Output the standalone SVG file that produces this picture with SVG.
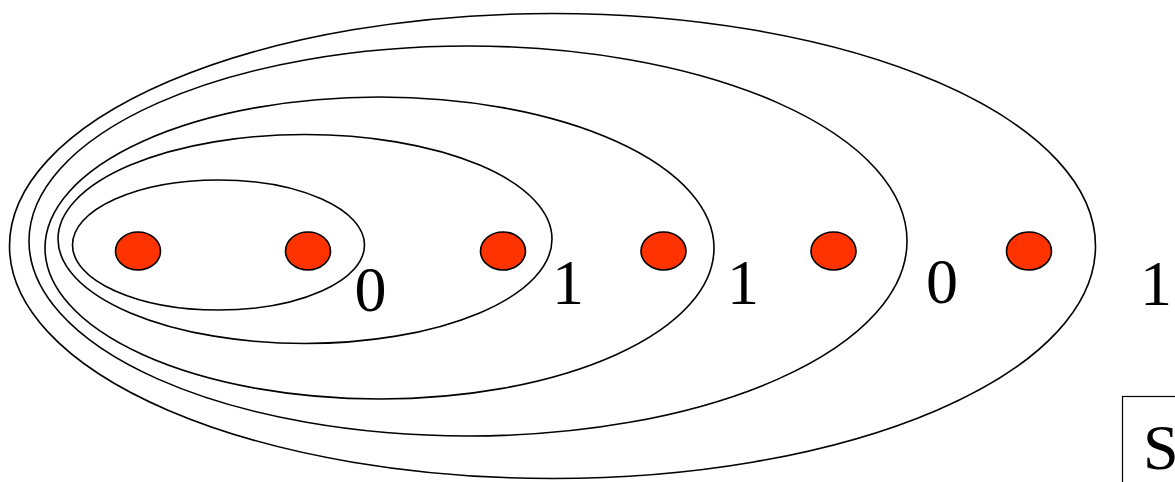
<svg xmlns="http://www.w3.org/2000/svg" width="1175" height="482" viewBox="0 0 1175 482">
<style>
.ring{fill:none;stroke:#000;stroke-width:1.6}
.dot{fill:#FF3300;stroke:#000;stroke-width:1.6}
.lbl{font-family:"Liberation Serif","Times New Roman",serif;font-size:64px;fill:#000}
</style>
<rect width="1175" height="482" fill="#fff"/>
<g id="rings">
<ellipse id="e1" class="ring" cx="218.5" cy="245" rx="146" ry="65"/>
<ellipse id="e2" class="ring" cx="305" cy="239" rx="247" ry="104.5"/>
<ellipse id="e3" class="ring" cx="379.5" cy="248" rx="334.5" ry="151"/>
<ellipse id="e4" class="ring" cx="468" cy="241" rx="439" ry="195"/>
<ellipse id="e5" class="ring" cx="552.5" cy="246" rx="543" ry="232.5"/>
</g>
<g id="dots">
<ellipse id="d1" class="dot" cx="138" cy="251" rx="22.5" ry="19"/>
<ellipse id="d2" class="dot" cx="308" cy="251" rx="22.5" ry="19"/>
<ellipse id="d3" class="dot" cx="503" cy="251" rx="22.5" ry="19"/>
<ellipse id="d4" class="dot" cx="663.5" cy="251" rx="22.5" ry="19"/>
<ellipse id="d5" class="dot" cx="833.5" cy="251" rx="22.5" ry="19"/>
<ellipse id="d6" class="dot" cx="1029" cy="251" rx="22.5" ry="19"/>
</g>
<g id="labels">
<text class="lbl" x="354.5" y="311">0</text>
<text class="lbl" x="552" y="304">1</text>
<text class="lbl" x="727" y="304">1</text>
<text class="lbl" x="926" y="303">0</text>
<text class="lbl" x="1140" y="305">1</text>
</g>
<g id="sbox">
<rect x="1122.5" y="396.5" width="100" height="100" fill="none" stroke="#000" stroke-width="1.2"/>
<text class="lbl" x="1143" y="469">S</text>
</g>
</svg>
